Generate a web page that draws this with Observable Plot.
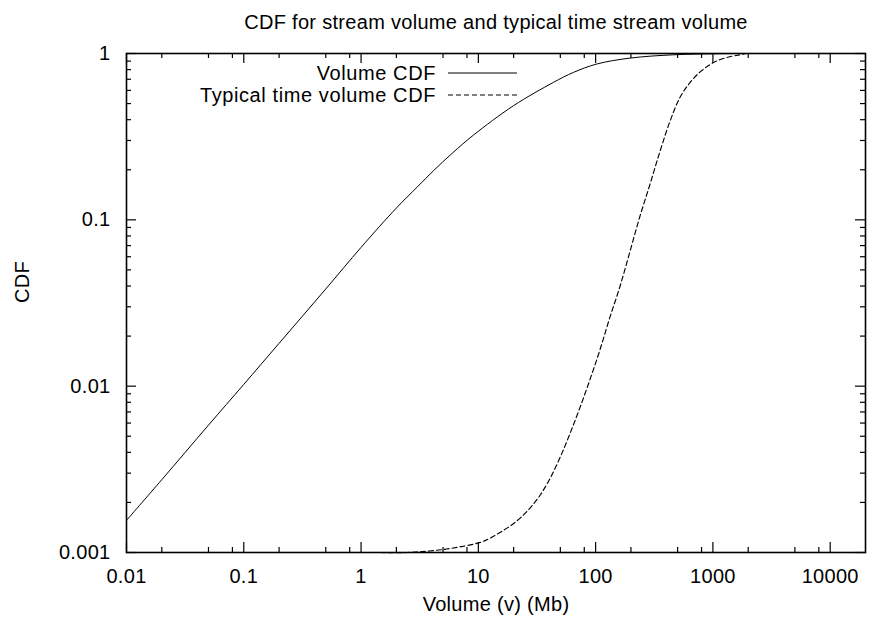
<!DOCTYPE html>
<html>
<head>
<meta charset="utf-8">
<script src="https://cdn.jsdelivr.net/npm/d3@7"></script>
<script src="https://cdn.jsdelivr.net/npm/@observablehq/plot@0.6"></script>
<style>
  html, body { margin: 0; padding: 0; background: #fff; }
</style>
</head>
<body>
<div id="chart"></div>
<script>
// ---- Text ----
const title = "CDF for stream volume and typical time stream volume";
const xLabel = "Volume (v) (Mb)";
const yLabel = "CDF";
const seriesNames = ["Volume CDF", "Typical time volume CDF"];
const seriesDashes = ["none", "5,3"];

// ---- Series ----
const volumeX   = [0.01, 0.02, 0.05, 0.1, 0.2, 0.5, 1, 2, 3, 4.15, 6, 9.1, 19.9, 43.6, 64.5, 102, 196, 458, 1140, 2000];
const volumeCdf = [0.00156, 0.00274, 0.00583, 0.01025, 0.0181, 0.0384, 0.0683, 0.1177, 0.157, 0.1975, 0.2517, 0.3235, 0.485, 0.670, 0.769, 0.864, 0.938, 0.982, 0.997, 1.0];

const typicalX   = [1.46, 2.46, 5.4, 10.4, 12.6, 15.3, 18.6, 22.7, 27.6, 33.6, 40.8, 49.7, 60.4, 73.5, 89.4, 109, 132, 161, 196, 238, 290, 352, 429, 522, 635, 772, 939, 1140, 1390, 1690, 1930];
const typicalCdf = [0.001, 0.001, 0.00105, 0.00115, 0.00122, 0.00132, 0.00144, 0.00161, 0.00185, 0.00221, 0.00278, 0.00372, 0.00518, 0.00743, 0.01094, 0.01658, 0.0258, 0.0396, 0.0643, 0.1044, 0.1626, 0.2548, 0.3886, 0.5418, 0.6667, 0.7709, 0.8552, 0.9166, 0.9554, 0.982, 1.0];

// ---- Axes ----
const xDomain = [0.01, 20000];
const yDomain = [0.001, 1];
const xTickValues = [0.01, 0.1, 1, 10, 100, 1000, 10000];
const xTickLabels = ["0.01", "0.1", "1", "10", "100", "1000", "10000"];
const yTickValues = [0.001, 0.01, 0.1, 1];
const yTickLabels = ["0.001", "0.01", "0.1", "1"];
const xMinorMultipliers = [2, 5, 8];
const yMinorMultipliers = [2, 3, 4, 5, 6, 7, 8, 9];

// ---- Layout ----
const W = 870, H = 622;
const mL = 126, mR = 5, mT = 53, mB = 70;
const plotW = W - mL - mR, plotH = H - mT - mB;
const majorLen = 10, minorLen = 5;
const FONT = "'Liberation Sans', Arial, Helvetica, sans-serif";

const rows = [
  ...volumeX.map((x, i) => ({series: seriesNames[0], x, y: volumeCdf[i]})),
  ...typicalX.map((x, i) => ({series: seriesNames[1], x, y: typicalCdf[i]}))
];

const xMinor = xTickValues.slice(0, -1).flatMap(d => xMinorMultipliers.map(m => d * m));
const yMinor = yTickValues.slice(0, -1).flatMap(d => yMinorMultipliers.map(m => d * m));

const chart = Plot.plot({
  width: W,
  height: H,
  marginLeft: mL,
  marginRight: mR,
  marginTop: mT,
  marginBottom: mB,
  style: {fontFamily: FONT, fontSize: "20px", background: "#fff", color: "#000", overflow: "visible", letterSpacing: "0.3px"},
  x: {type: "log", domain: xDomain, ticks: xTickValues, tickFormat: d => xTickLabels[xTickValues.indexOf(d)], tickSize: 0, tickPadding: 16, label: null},
  y: {type: "log", domain: yDomain, ticks: yTickValues, tickFormat: d => yTickLabels[yTickValues.indexOf(d)], tickSize: 0, tickPadding: 16, label: null},
  marks: [
    // major ticks (inward, mirrored on all four sides)
    Plot.ruleX(xTickValues, {x: d => d, insetTop: plotH - majorLen, stroke: "#000", strokeWidth: 1.2}),
    Plot.ruleX(xTickValues, {x: d => d, insetBottom: plotH - majorLen, stroke: "#000", strokeWidth: 1.2}),
    Plot.ruleY(yTickValues, {y: d => d, insetRight: plotW - majorLen, stroke: "#000", strokeWidth: 1.2}),
    Plot.ruleY(yTickValues, {y: d => d, insetLeft: plotW - majorLen, stroke: "#000", strokeWidth: 1.2}),
    // minor ticks
    Plot.ruleX(xMinor, {x: d => d, insetTop: plotH - minorLen, stroke: "#000", strokeWidth: 1.2}),
    Plot.ruleX(xMinor, {x: d => d, insetBottom: plotH - minorLen, stroke: "#000", strokeWidth: 1.2}),
    Plot.ruleY(yMinor, {y: d => d, insetRight: plotW - minorLen, stroke: "#000", strokeWidth: 1.2}),
    Plot.ruleY(yMinor, {y: d => d, insetLeft: plotW - minorLen, stroke: "#000", strokeWidth: 1.2}),
    // series
    Plot.line(rows.filter(d => d.series === seriesNames[0]), {x: "x", y: "y", stroke: "#000", strokeWidth: 1, curve: "catmull-rom"}),
    Plot.line(rows.filter(d => d.series === seriesNames[1]), {x: "x", y: "y", stroke: "#000", strokeWidth: 1.15, strokeDasharray: seriesDashes[1], curve: "catmull-rom"}),
    Plot.frame({stroke: "#000", strokeWidth: 1.6}),
    // titles
    Plot.text([title], {text: d => d, frameAnchor: "top", lineAnchor: "middle", dy: -31, fontSize: 20, fill: "#000", letterSpacing: "0.8px"}),
    Plot.text([xLabel], {text: d => d, frameAnchor: "bottom", lineAnchor: "middle", dy: 52, fontSize: 20, fill: "#000", letterSpacing: "0.75px"}),
    Plot.text([yLabel], {text: d => d, frameAnchor: "left", lineAnchor: "middle", dx: -104, rotate: -90, fontSize: 20, fill: "#000"})
  ]
});

// legend (key), drawn into the same SVG
const svg = d3.select(chart);
const key = svg.append("g").attr("font-family", FONT).attr("font-size", 20).attr("letter-spacing", "0.6px");
seriesNames.forEach((name, i) => {
  const yy = 73 + i * 22;
  key.append("text")
    .attr("x", 436).attr("y", yy).attr("dy", "0.35em")
    .attr("text-anchor", "end").attr("fill", "#000")
    .text(name);
  key.append("line")
    .attr("x1", 448).attr("x2", 517).attr("y1", yy).attr("y2", yy)
    .attr("stroke", "#000").attr("stroke-width", 1)
    .attr("stroke-dasharray", seriesDashes[i]);
});

document.getElementById("chart").appendChild(chart);
</script>
</body>
</html>
